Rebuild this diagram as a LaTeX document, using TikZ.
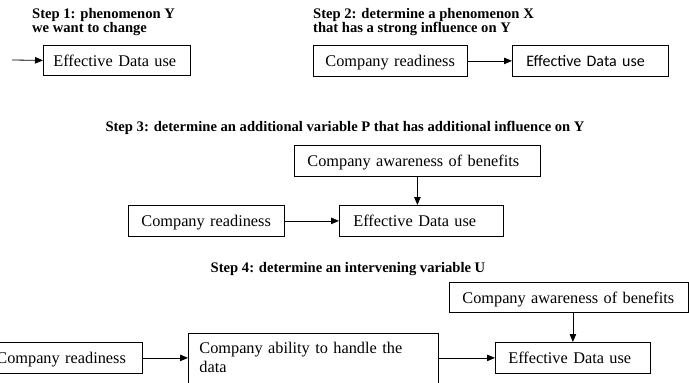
\documentclass[tikz,border=0pt]{standalone}
\usepackage{fontspec}
\setmainfont{Liberation Serif}
\newfontfamily\carlito{Carlito}
\usetikzlibrary{arrows.meta}
\begin{document}
\begin{tikzpicture}[x=1pt,y=-1pt,
  box/.style={draw, line width=0.8pt, anchor=north west, inner ysep=0pt, align=left, font=\fontsize{16.3}{19}\selectfont},
  oneline/.style={text height=12.5pt, text depth=0.5pt},
  ttl/.style={font=\bfseries\fontsize{14.6}{14}\selectfont, inner sep=0pt, align=left},
  arr/.style={line width=0.8pt, -{Triangle[length=8pt,width=6.5pt]}}]
\useasboundingbox (0,0) rectangle (689,383);
% Step 1
\node[ttl, anchor=north west] (t1) at (32,8) {Step 1: phenomenon Y\\we want to change};
\node[box, oneline, inner xsep=10pt, text width=127pt, minimum height=30pt] (e1) at (43,45) {\mbox{Effective Data use}};
\coordinate (s1) at (12,60);
\draw[arr] (s1) -- (e1.west);
% Step 2
\node[ttl, anchor=north west] (t2) at (313,8) {Step 2: determine a phenomenon X\\that has a strong influence on Y};
\node[box, oneline, inner xsep=12pt, text width=130pt, minimum height=31pt] (c2) at (313,45) {\mbox{Company readiness}};
\node[box, oneline, inner xsep=14pt, text width=128pt, minimum height=31pt, font=\carlito\fontsize{16}{19}\selectfont] (e2) at (512,45) {\mbox{Effective Data use}};
\draw[arr] (c2.east) -- (e2.west);
% Step 3
\node[ttl] (t3) at (345,128) {Step 3: determine an additional variable P that has additional influence on Y};
\node[box, oneline, inner xsep=13pt, text width=220pt, minimum height=31pt] (a3) at (294,145) {\mbox{Company awareness of benefits}};
\node[box, oneline, inner xsep=13pt, text width=130pt, minimum height=31pt] (c3) at (128,205) {\mbox{Company readiness}};
\node[box, oneline, inner xsep=14pt, text width=136pt, minimum height=31pt] (e3) at (339,205) {\mbox{Effective Data use}};
\draw[arr] (c3.east) -- (e3.west);
\draw[arr] (a3.south) -- (a3.south |- e3.north);
% Step 4
\node[ttl] (t4) at (348,269) {Step 4: determine an intervening variable U};
\node[box, oneline, inner xsep=13pt, text width=213pt, minimum height=30pt] (a4) at (449,282) {\mbox{Company awareness of benefits}};
\node[box, oneline, inner xsep=12pt, text width=134pt, minimum height=31pt] (c4) at (-16,342) {\mbox{Company readiness}};
\node[box, inner xsep=11pt, text width=228pt, minimum height=50pt] (b4) at (188,332.5) {Company ability to handle the\\data};
\node[box, oneline, inner xsep=13pt, text width=129pt, minimum height=31pt] (e4) at (495,342) {\mbox{Effective Data use}};
\draw[arr] (c4.east) -- (b4.west);
\draw[arr] (b4.east) -- (e4.west);
\draw[arr] (a4.south -| e4.north) -- (e4.north);
\end{tikzpicture}
\end{document}
